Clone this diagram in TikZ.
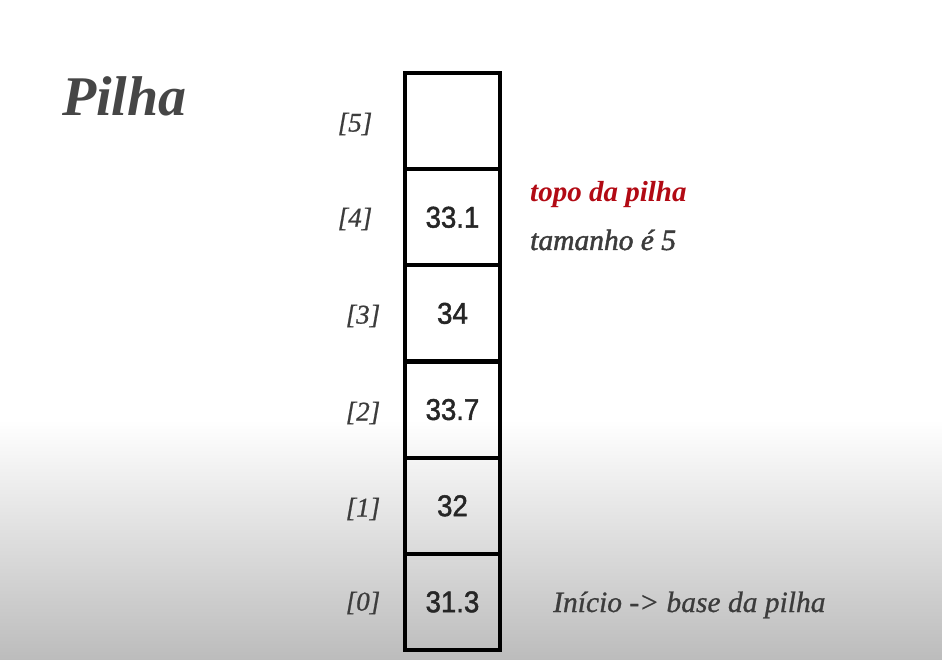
\documentclass[tikz,border=0pt]{standalone}
\usepackage{fontspec}
\setmainfont{Liberation Serif}
\newfontfamily\numfont[FakeStretch=0.92,FakeBold=1.5]{Liberation Sans}
\newfontfamily\medserif[FakeBold=0.8]{Liberation Serif}
\newfontfamily\semiserif[FakeBold=1.6]{Liberation Serif}
\definecolor{txtgray}{RGB}{60,60,60}
\definecolor{topred}{RGB}{178,10,20}
\definecolor{bottomgray}{RGB}{188,188,188}
\begin{document}
\begin{tikzpicture}[x=1pt,y=-1pt,
  cell/.style={draw=black,line width=4pt,minimum width=95pt,minimum height=96.17pt,inner sep=0pt,
    font=\numfont\fontsize{30}{32}\selectfont,text=black!85},
  idx/.style={font=\medserif\itshape\fontsize{27}{30}\selectfont,text=txtgray,inner sep=0pt},
  note/.style={inner sep=0pt,anchor=base west}
]
\useasboundingbox (0,0) rectangle (942,660);
\fill[white] (0,0) rectangle (942,420);
\shade[top color=white,bottom color=bottomgray] (0,420) rectangle (942,660);

\node[font=\bfseries\itshape\fontsize{56}{60}\selectfont,text=txtgray!95,anchor=base west,inner sep=0pt] (title) at (62,116) {Pilha};

\node[cell] (c5) at (452.5,121.1) {};
\node[cell] (c4) at (452.5,217.3) {33.1};
\node[cell] (c3) at (452.5,313.4) {34};
\node[cell] (c2) at (452.5,409.6) {33.7};
\node[cell] (c1) at (452.5,505.8) {32};
\node[cell] (c0) at (452.5,601.9) {31.3};

\node[idx] (i5) at (355,124) {[5]};
\node[idx] (i4) at (355,219) {[4]};
\node[idx] (i3) at (363,316) {[3]};
\node[idx] (i2) at (363,413) {[2]};
\node[idx] (i1) at (363,509) {[1]};
\node[idx] (i0) at (363,603) {[0]};

\node[note,text=topred,font=\bfseries\itshape\fontsize{29}{32}\selectfont] (topo) at (530,202) {topo da pilha};
\node[note,text=txtgray,font=\semiserif\itshape\fontsize{29.5}{32}\selectfont] (tam) at (530,250) {tamanho é 5};
\node[note,text=txtgray,font=\medserif\itshape\fontsize{29.5}{32}\selectfont] (base) at (553,612) {Início -> base da pilha};
\end{tikzpicture}
\end{document}
